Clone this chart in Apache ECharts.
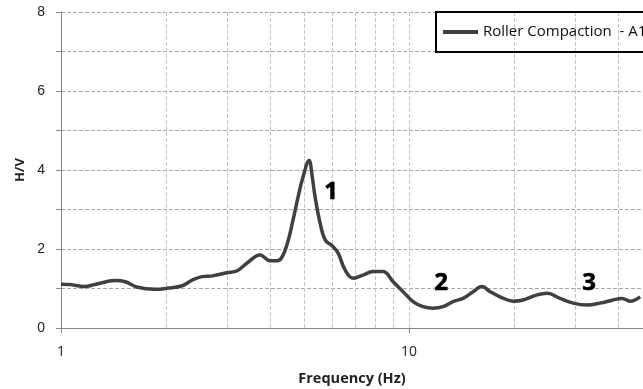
<!DOCTYPE html>
<html>
<head>
<meta charset="utf-8">
<script src="https://cdn.jsdelivr.net/npm/echarts@6/dist/echarts.min.js"></script>
<style>
  html, body { margin: 0; padding: 0; background: #fff; }
  #main { width: 643px; height: 389px; }
</style>
</head>
<body>
<div id="main"></div>
<script>
// H/V curve, frequency (Hz) vs ratio
var freq = [1.00, 1.06, 1.17, 1.25, 1.43, 1.53, 1.66, 1.86, 2.03, 2.23, 2.38, 2.54,
            2.73, 3.00, 3.21, 3.42, 3.73, 3.99, 4.18, 4.32, 4.49, 4.64, 4.80, 4.96,
            5.16, 5.27, 5.37, 5.55, 5.74, 6.01, 6.25, 6.55, 6.91, 7.38, 7.88, 8.42,
            9.00, 9.61, 10.27, 10.97, 11.72, 12.52, 13.38, 14.29, 15.28, 16.21, 17.09,
            18.26, 19.90, 21.27, 23.33, 24.93, 27.16, 29.60, 32.47, 35.40, 38.55,
            40.93, 43.15, 46.12];
var hv = [1.11, 1.10, 1.05, 1.10, 1.20, 1.17, 1.03, 0.98, 1.01, 1.07, 1.21, 1.30,
          1.32, 1.40, 1.45, 1.64, 1.85, 1.70, 1.70, 1.80, 2.20, 2.73, 3.32, 3.83,
          4.24, 3.83, 3.32, 2.66, 2.23, 2.08, 1.90, 1.47, 1.26, 1.34, 1.43, 1.43,
          1.17, 0.92, 0.67, 0.54, 0.50, 0.54, 0.67, 0.75, 0.92, 1.05, 0.92,
          0.79, 0.68, 0.71, 0.84, 0.88, 0.75, 0.63, 0.58, 0.63, 0.71,
          0.75, 0.68, 0.79];

var seriesName = 'Roller Compaction  - A1';
var minorGridX = [2, 3, 4, 5, 6, 7, 8, 9, 10, 20, 30, 40];
var yTicks = [0, 2, 4, 6, 8];
var notes = [
  { name: '1', value: [5.97, 3.43] },
  { name: '2', value: [12.36, 1.13] },
  { name: '3', value: [32.9, 1.14] }
];

var myChart = echarts.init(document.getElementById('main'));

var pts = [];
for (var i = 0; i < freq.length; i++) {
  pts.push([freq[i], hv[i]]);
}

var gridLines = minorGridX.map(function (v) { return { xAxis: v }; });

var option = {
  backgroundColor: '#ffffff',
  animation: false,
  grid: { left: 61, right: 0, top: 12, bottom: 61, outerBoundsMode: 'none', containLabel: false },
  legend: {
    data: [{ name: seriesName, icon: 'rect' }],
    left: 436,
    top: 12,
    padding: [12, 12, 12, 7],
    itemWidth: 35,
    itemHeight: 4,
    itemGap: 3,
    borderColor: '#000',
    borderWidth: 2,
    textStyle: { fontFamily: 'Open Sans', fontSize: 15, color: '#111', lineHeight: 16 }
  },
  xAxis: {
    type: 'log',
    logBase: 10,
    min: 1,
    max: 47,
    name: 'Frequency (Hz)',
    nameLocation: 'middle',
    nameGap: 43,
    nameTextStyle: { fontFamily: 'Open Sans', fontWeight: 'bold', fontSize: 14.5, color: '#222' },
    axisLine: { lineStyle: { color: '#888', width: 1 } },
    axisTick: { show: true, length: 5, lineStyle: { color: '#888' }, customValues: [1, 10] },
    axisLabel: {
      customValues: [1, 10],
      margin: 17,
      fontFamily: 'Open Sans', fontSize: 14, color: '#222'
    },
    splitLine: { show: false }
  },
  yAxis: {
    type: 'value',
    min: 0,
    max: 8,
    interval: 1,
    name: 'H/V',
    nameLocation: 'middle',
    nameRotate: 90,
    nameGap: 32,
    nameTextStyle: { fontFamily: 'Open Sans', fontWeight: 'bold', fontSize: 13, color: '#222' },
    axisLine: { show: true, lineStyle: { color: '#888', width: 1 } },
    axisTick: { show: true, length: 5, lineStyle: { color: '#888' } },
    axisLabel: {
      margin: 16,
      fontFamily: 'Liberation Sans', fontSize: 14, color: '#222',
      formatter: function (v) { return yTicks.indexOf(v) >= 0 ? v : ''; }
    },
    splitLine: { show: true, lineStyle: { color: '#a8a8a8', type: [4, 2], width: 1 } }
  },
  series: [
    {
      name: seriesName,
      type: 'line',
      data: pts,
      smooth: 0.4,
      showSymbol: false,
      color: '#404040',
      lineStyle: { color: '#404040', width: 3.5 },
      z: 3,
      markLine: {
        silent: true,
        symbol: 'none',
        label: { show: false },
        lineStyle: { color: '#c4c4c4', type: [4, 2], width: 1 },
        data: gridLines,
        z: 1
      }
    },
    {
      name: 'notes',
      type: 'scatter',
      data: notes,
      symbolSize: 0,
      silent: true,
      itemStyle: { opacity: 1 },
      label: {
        show: true,
        position: 'inside',
        formatter: '{b}',
        fontFamily: 'Open Sans',
        fontWeight: 'bold',
        fontSize: 24,
        color: '#000',
        opacity: 1,
        textBorderColor: '#000',
        textBorderWidth: 0.6
      },
      z: 4
    }
  ]
};

myChart.setOption(option);
</script>
</body>
</html>
